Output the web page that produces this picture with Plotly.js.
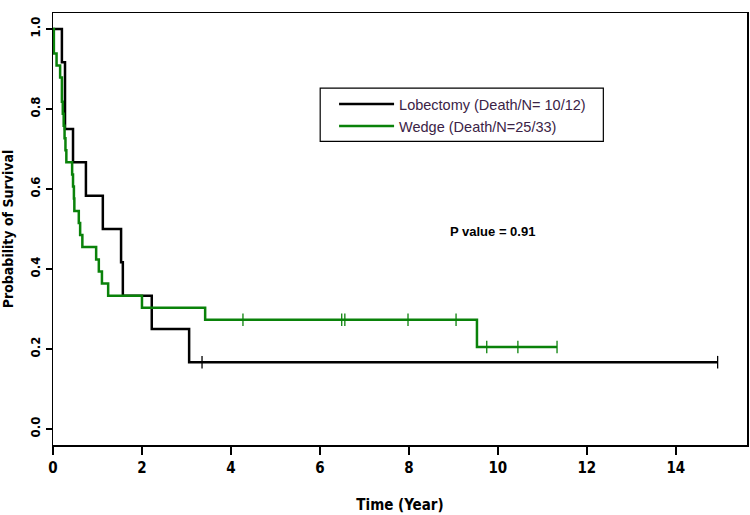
<!DOCTYPE html>
<html>
<head>
<meta charset="utf-8">
<script src="https://cdn.plot.ly/plotly-3.0.1.min.js"></script>
<style>html,body{margin:0;padding:0;background:#fff;}#chart{width:750px;height:515px;}</style>
</head>
<body>
<div id="chart"></div>
<script>
// Lobectomy (N=12, 10 deaths)
const lobTimes = [0.20, 0.27, 0.45, 0.74, 1.12, 1.53, 1.57, 2.22, 3.06];
const lobSurv  = [0.917, 0.750, 0.667, 0.583, 0.500, 0.417, 0.333, 0.250, 0.167];
const lobCensorTimes = [3.35, 14.94];
const lobCensorSurv  = [0.167, 0.167];

// Wedge (N=33, 25 deaths)
const wedTimes = [0.02, 0.08, 0.16, 0.20, 0.22, 0.24, 0.26, 0.28, 0.30, 0.43, 0.45, 0.47, 0.48, 0.58, 0.61, 0.66, 0.97, 1.03, 1.10, 1.24, 2.00, 3.42, 9.53];
const wedSurv  = [0.939, 0.909, 0.879, 0.818, 0.788, 0.758, 0.727, 0.697, 0.667, 0.636, 0.606, 0.576, 0.545, 0.515, 0.485, 0.455, 0.424, 0.394, 0.364, 0.333, 0.303, 0.273, 0.205];
const wedCensorTimes = [4.27, 6.49, 6.56, 7.98, 9.06, 9.75, 10.45, 11.33];
const wedCensorSurv  = [0.273, 0.273, 0.273, 0.273, 0.273, 0.205, 0.205, 0.205];

const seriesNames = ['Lobectomy (Death/N= 10/12)', 'Wedge (Death/N=25/33)'];
const xTicks = [0, 2, 4, 6, 8, 10, 12, 14];
const yTicks = [0, 0.2, 0.4, 0.6, 0.8, 1.0];
const yTickText = ['0.0', '0.2', '0.4', '0.6', '0.8', '1.0'];
const pText = 'P value = 0.91';

function stepXY(times, surv, endT) {
  const x = [0].concat(times, [endT]);
  const y = [1].concat(surv, [surv[surv.length - 1]]);
  return {x, y};
}
const lobEnd = lobCensorTimes[lobCensorTimes.length - 1];
const wedEnd = wedCensorTimes[wedCensorTimes.length - 1];
const lob = stepXY(lobTimes, lobSurv, lobEnd);
const wed = stepXY(wedTimes, wedSurv, wedEnd);

const BLACK = '#000000';
const GREEN = 'rgb(10,130,10)';
const NARROW = '"Liberation Sans Narrow", "Arial Narrow", "DejaVu Sans Condensed", Arial, sans-serif';

const traces = [
  {x: lob.x, y: lob.y, mode: 'lines', line: {shape: 'hv', color: BLACK, width: 2.5}, name: seriesNames[0]},
  {x: wed.x, y: wed.y, mode: 'lines', line: {shape: 'hv', color: GREEN, width: 2.5}, name: seriesNames[1]},
  {x: lobCensorTimes, y: lobCensorSurv, mode: 'markers', showlegend: false,
   marker: {symbol: 'line-ns', size: 9, line: {color: BLACK, width: 1.3}}},
  {x: wedCensorTimes, y: wedCensorSurv, mode: 'markers', showlegend: false,
   marker: {symbol: 'line-ns', size: 9, line: {color: GREEN, width: 1.3}}}
];

const axisFont = {family: NARROW, size: 15, color: '#000', weight: 'bold'};

const layout = {
  width: 750, height: 515,
  margin: {l: 53, r: 3, t: 13, b: 70},
  paper_bgcolor: '#fff', plot_bgcolor: '#fff',
  showlegend: true,
  xaxis: {
    range: [0, 15.6], tickvals: xTicks, ticks: 'outside', ticklen: 8, tickwidth: 1.5, tickcolor: '#000',
    showline: true, mirror: true, linecolor: '#000', linewidth: 1.5,
    showgrid: false, zeroline: false, tickfont: axisFont,
    title: {text: 'Time (Year)', font: axisFont, standoff: 24}
  },
  yaxis: {
    range: [-0.04, 1.04], tickvals: yTicks, ticktext: yTickText, tickangle: -90,
    ticks: 'outside', ticklen: 6, tickwidth: 1.5, tickcolor: '#000',
    showline: true, mirror: true, linecolor: '#000', linewidth: 1.5,
    showgrid: false, zeroline: false, tickfont: {family: NARROW, size: 13, color: '#000', weight: 'bold'},
    title: {text: 'Probability of Survival', font: {family: NARROW, size: 14, color: '#000', weight: 'bold'}, standoff: 12}
  },
  legend: {
    x: 0.405, y: 0.826, xanchor: 'left', yanchor: 'top',
    bgcolor: 'rgba(0,0,0,0)', borderwidth: 0, itemwidth: 55,
    font: {family: 'Arial, "Liberation Sans", sans-serif', size: 14.5, color: '#3b2346'},
    tracegroupgap: 0
  },
  shapes: [
    {type: 'rect', xref: 'paper', yref: 'paper', x0: 0.385, x1: 0.793, y0: 0.703, y1: 0.826,
     line: {color: '#000', width: 1.2}, fillcolor: 'rgba(0,0,0,0)'}
  ],
  annotations: [
    {text: pText, x: 9.87, y: 0.495, xref: 'x', yref: 'y', showarrow: false,
     font: {family: 'Arial, "Liberation Sans", sans-serif', size: 13, color: '#000', weight: 'bold'}}
  ]
};

Plotly.newPlot('chart', traces, layout, {displayModeBar: false, staticPlot: true});
</script>
</body>
</html>
